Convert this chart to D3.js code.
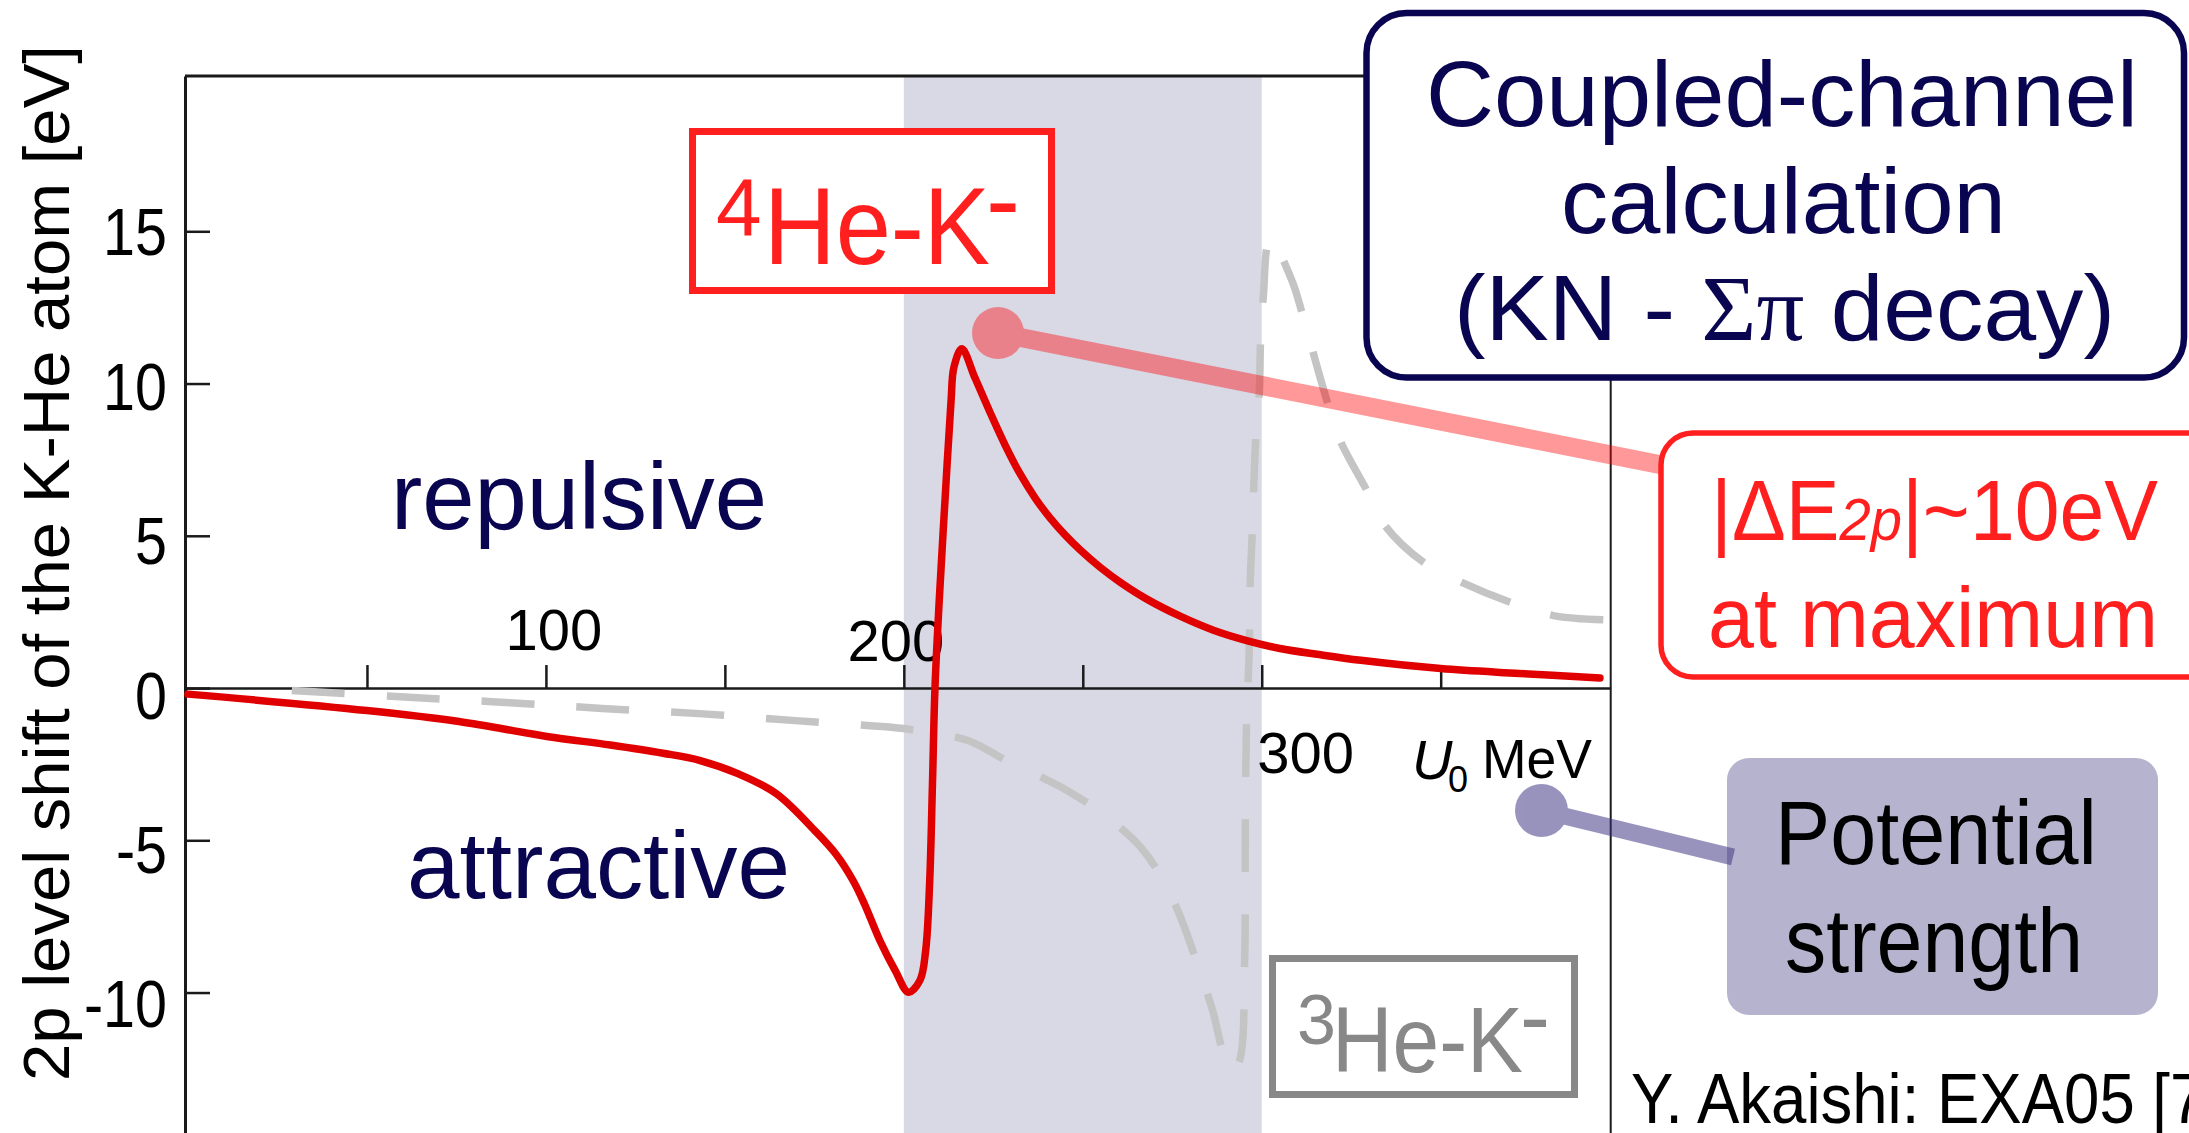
<!DOCTYPE html>
<html><head><meta charset="utf-8">
<script src="https://cdn.jsdelivr.net/npm/d3@7"></script>
<style>
html,body{margin:0;padding:0;background:#fff;overflow:hidden}
svg{display:block}
</style></head><body>
<svg id="chart" width="2189" height="1133"></svg>
<script>
// ---------------- data ----------------
const redU = [0, 50, 75.7, 100.3, 118, 132.7, 143.1, 153.8, 164.4, 175.1, 181, 185.8, 189, 193.3, 197.6, 201.3, 204.5, 206.1, 207.2, 208.0, 208.7, 209.9, 211.5, 213.2, 214.0, 216.2, 219.9, 224.1, 228.3, 232.5, 236.7, 240.9, 245.1, 249.3, 254.8, 260.4, 267.9, 277.2, 286.5, 295.8, 305.1, 316, 327.7, 350, 372, 394.5];
const redE = [-0.2, -0.74, -1.1, -1.59, -1.87, -2.14, -2.38, -2.82, -3.47, -4.68, -5.45, -6.32, -7.09, -8.29, -9.28, -9.99, -9.6, -8.62, -6.43, -3.15, 0, 2.89, 6.16, 9.44, 10.54, 11.14, 10.18, 9.05, 7.98, 7.03, 6.24, 5.58, 5.02, 4.53, 3.97, 3.48, 2.92, 2.36, 1.9, 1.56, 1.3, 1.1, 0.91, 0.64, 0.48, 0.33];
const grayU = [29, 62.9, 90, 115.7, 142.8, 169.8, 196.5, 204, 217.9, 228.6, 237, 245.7, 256.4, 266, 271.4, 276.7, 282.1, 286.3, 289.5, 291.6, 293.8, 295.2, 295.4, 295.8, 296.5, 296.8, 297.4, 297.8, 298.4, 299.3, 299.7, 300.5, 301.9, 303.5, 305.5, 309, 312.5, 318.2, 321.9, 328.9, 334.4, 345.2, 355.9, 369.4, 381.5, 395.5];
const grayE = [-0.08, -0.31, -0.48, -0.67, -0.84, -1.07, -1.29, -1.4, -1.72, -2.38, -2.85, -3.37, -4.2, -5.2, -6.1, -7.35, -9.1, -10.6, -12.1, -12.6, -12.23, -9.05, -4.24, -0.96, 1.23, 3.53, 5.23, 6.7, 8.35, 9.66, 11.52, 12.95, 14.64, 14.8, 14.2, 13.2, 11.8, 9.44, 8.13, 6.59, 5.34, 4.13, 3.47, 2.82, 2.38, 2.24];
const yTickValues = [15, 10, 5, 0, -5, -10];
const yTickLabels = ["15", "10", "5", "0", "-5", "-10"];
const xTickValues = [50, 100, 150, 200, 250, 300, 350];
const xLabelValues = [100, 200, 300];
const xLabelTexts = ["100", "200", "300"];
const bandRange = [200, 300];
const xDomain = [-0.84, 397.5];
const yDomain = [-14.8, 20.1];
const yTitle = "2p level shift of the K-He atom [eV]";

// ---------------- layout ----------------
const W = 2189, H = 1133;
const SANS = "'Liberation Sans', Arial, Helvetica, sans-serif";
const SERIF = "'Liberation Serif', 'Times New Roman', serif";
const NAVY = "#0a0550", RED = "#ff1f1f", CURVE_RED = "#e00000", GREY_TXT = "#888888";

const svg = d3.select("#chart");
svg.append("rect").attr("width", W).attr("height", H).attr("fill", "#fff");

const x = d3.scaleLinear().domain(xDomain).range([185, 1610.7]);
const y = d3.scaleLinear().domain(yDomain).range([1138.7, 76]);
const yLab = d3.scaleLinear().domain([15, -10]).range([232, 1004]);

function txt(parent, s, xx, yy, size, opt = {}) {
  const t = parent.append("text").attr("x", xx).attr("y", yy).attr("font-size", size)
    .attr("fill", opt.fill || "#000").attr("font-family", opt.family || SANS);
  if (opt.italic) t.attr("font-style", "italic");
  if (opt.anchor) t.attr("text-anchor", opt.anchor);
  if (s !== null) t.text(s);
  if (opt.w) t.attr("textLength", opt.w).attr("lengthAdjust", "spacingAndGlyphs");
  return t;
}

// shaded band
svg.append("rect")
  .attr("x", x(bandRange[0])).attr("width", x(bandRange[1]) - x(bandRange[0]))
  .attr("y", y(yDomain[1])).attr("height", H - y(yDomain[1]))
  .attr("fill", "#d9d9e6");

// frame
const frameStroke = "#1a1a1a";
svg.append("line").attr("x1", x(xDomain[0])).attr("x2", x(xDomain[1]))
  .attr("y1", y(yDomain[1])).attr("y2", y(yDomain[1]))
  .attr("stroke", frameStroke).attr("stroke-width", 3);
svg.append("line").attr("x1", x(xDomain[1])).attr("x2", x(xDomain[1]))
  .attr("y1", y(yDomain[1])).attr("y2", H)
  .attr("stroke", frameStroke).attr("stroke-width", 2);

// y axis (left frame line + ticks pointing right)
svg.append("g").attr("transform", `translate(${x(xDomain[0])},0)`)
  .call(d3.axisRight(y).tickValues(yTickValues).tickSize(25).tickSizeOuter(0).tickFormat(""))
  .call(g => g.select("path").attr("stroke", frameStroke).attr("stroke-width", 3))
  .call(g => g.selectAll("line").attr("stroke", frameStroke).attr("stroke-width", 2.5));

// x axis at zero with ticks pointing up
svg.append("g").attr("transform", `translate(0,${y(0)})`)
  .call(d3.axisTop(x).tickValues(xTickValues).tickSize(23).tickSizeOuter(0).tickFormat(""))
  .call(g => g.selectAll("path,line").attr("stroke", frameStroke).attr("stroke-width", 2.5));

// y tick labels
yTickValues.forEach((v, i) => {
  const t = txt(svg, yTickLabels[i], 0, yLab(v) + 0.355 * 66, 66);
  const n = t.node().getComputedTextLength() * 0.87;
  t.attr("x", 167 - n).attr("textLength", n).attr("lengthAdjust", "spacingAndGlyphs");
});

// x tick labels (pasted positions relative to ticks)
const xLabelOffsets = [[8, 650], [-8, 661], [44, 773]];
xLabelValues.forEach((v, i) => {
  txt(svg, xLabelTexts[i], x(v) + xLabelOffsets[i][0], xLabelOffsets[i][1], 58, { anchor: "middle" });
});

// axis unit label  U0 MeV
txt(svg, "U", 1412, 779, 56, { italic: true });
txt(svg, "0", 1448, 792, 36);
txt(svg, "MeV", 1482, 778, 56, { w: 110 });

// y axis title
txt(svg, yTitle, -518, 0, 65, { w: 1036 })
  .attr("transform", "translate(69,563) rotate(-90)");

// curves
const line = d3.line().x(d => x(d[0])).y(d => y(d[1])).curve(d3.curveCatmullRom.alpha(0.5));
svg.append("path").datum(grayU.map((u, i) => [u, grayE[i]]))
  .attr("d", line).attr("fill", "none").attr("stroke", "#c4c4c4").attr("stroke-width", 7.5)
  .attr("stroke-dasharray", "53 42");
svg.append("path").datum(redU.map((u, i) => [u, redE[i]]))
  .attr("d", line).attr("fill", "none").attr("stroke", CURVE_RED).attr("stroke-width", 7.5)
  .attr("stroke-linejoin", "round").attr("stroke-linecap", "round");

// region words
txt(svg, "repulsive", 391, 529, 95, { fill: NAVY, w: 376 });
txt(svg, "attractive", 407, 898, 95, { fill: NAVY, w: 383 });

// pink connector (semi-transparent)
const pink = svg.append("g").attr("opacity", 0.4);
pink.append("line").attr("x1", 998).attr("y1", 333).attr("x2", 1662).attr("y2", 465)
  .attr("stroke", "#ff0000").attr("stroke-width", 19);
pink.append("circle").attr("cx", 998).attr("cy", 333).attr("r", 26).attr("fill", "#ff0000");

// 4He-K- box
svg.append("rect").attr("x", 692.5).attr("y", 131.5).attr("width", 359).attr("height", 159)
  .attr("fill", "#fff").attr("stroke", RED).attr("stroke-width", 7);
txt(svg, "4", 716, 235.6, 82, { fill: RED });
txt(svg, "He-K", 764, 263.6, 110, { fill: RED, w: 226 });
txt(svg, "-", 986, 236.6, 110, { fill: RED, w: 34 });

// 3He-K- box
svg.append("rect").attr("x", 1272.5).attr("y", 958.5).attr("width", 302).attr("height", 136)
  .attr("fill", "#fff").attr("stroke", GREY_TXT).attr("stroke-width", 7);
txt(svg, "3", 1297, 1044, 70, { fill: GREY_TXT });
txt(svg, "He-K", 1332, 1072, 93, { fill: GREY_TXT, w: 191 });
txt(svg, "-", 1520, 1048, 93, { fill: GREY_TXT, w: 30 });

// Coupled-channel box
svg.append("rect").attr("x", 1366.5).attr("y", 13).attr("width", 817.5).attr("height", 364.5)
  .attr("rx", 40).attr("fill", "#fff").attr("stroke", NAVY).attr("stroke-width", 6.5);
txt(svg, "Coupled-channel", 1426, 125.5, 93, { fill: NAVY, w: 712 });
txt(svg, "calculation", 1561, 233, 93, { fill: NAVY, w: 445 });
const kn = txt(svg, null, 1454, 340, 93, { fill: NAVY });
kn.append("tspan").text("(KN - ");
kn.append("tspan").attr("font-family", SERIF).text("Σπ");
kn.append("tspan").text(" decay)");
kn.attr("textLength", 661).attr("lengthAdjust", "spacingAndGlyphs");

// |ΔE2p|~10eV box
svg.append("rect").attr("x", 1661).attr("y", 433).attr("width", 560).attr("height", 244)
  .attr("rx", 32).attr("fill", "#fff").attr("stroke", RED).attr("stroke-width", 5.5);
const de = txt(svg, null, 1711, 540, 86, { fill: RED });
de.append("tspan").text("|ΔE");
de.append("tspan").attr("font-style", "italic").attr("font-size", 60).text("2p");
de.append("tspan").text("|~10eV");
de.attr("textLength", 447).attr("lengthAdjust", "spacingAndGlyphs");
txt(svg, "at maximum", 1708, 647, 86, { fill: RED, w: 450 });

// Potential strength box
svg.append("rect").attr("x", 1727).attr("y", 758).attr("width", 431).attr("height", 257)
  .attr("rx", 22).attr("fill", "#b5b3cd");
txt(svg, "Potential", 1775, 864, 90, { w: 322 });
txt(svg, "strength", 1785, 972, 90, { w: 298 });

// lavender connector (drawn over box edge, semi-transparent)
const lav = svg.append("g").attr("opacity", 0.52);
lav.append("line").attr("x1", 1541.5).attr("y1", 810.5).attr("x2", 1733).attr("y2", 857)
  .attr("stroke", "#3c3282").attr("stroke-width", 17);
lav.append("circle").attr("cx", 1541.5).attr("cy", 810.5).attr("r", 26.5).attr("fill", "#3c3282");

// citation
txt(svg, "Y. Akaishi: EXA05 [7]", 1631, 1122.5, 70, { w: 592 });
</script>
</body></html>
